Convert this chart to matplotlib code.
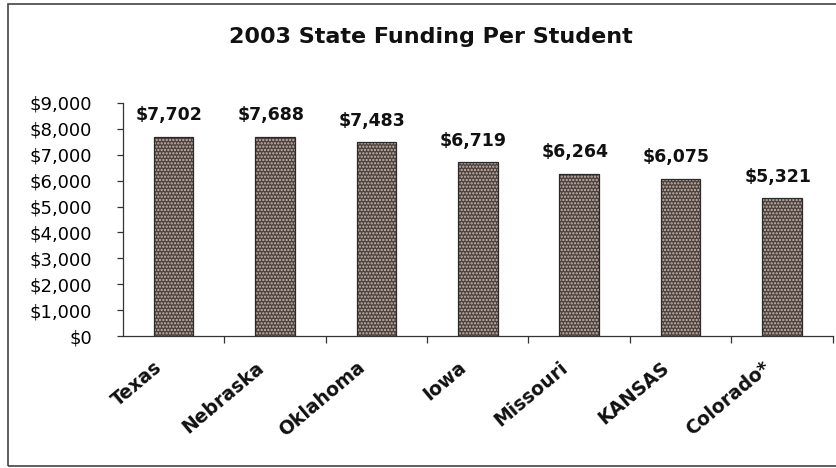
import matplotlib.pyplot as plt
from matplotlib.patches import Rectangle
from matplotlib.ticker import FuncFormatter, MultipleLocator
from matplotlib.transforms import ScaledTranslation

states = ['Texas', 'Nebraska', 'Oklahoma', 'Iowa', 'Missouri', 'KANSAS', 'Colorado*']
funding = [7702, 7688, 7483, 6719, 6264, 6075, 5321]
title = '2003 State Funding Per Student'

plt.rcParams['font.family'] = 'DejaVu Sans'
plt.rcParams['hatch.linewidth'] = 1.1

fig = plt.figure(figsize=(8.36, 4.68), dpi=100)
ax = fig.add_axes([0.147, 0.282, 0.849, 0.498])

x = range(len(states))
# stippled fill, then a dark outline on top
ax.bar(x, funding, width=0.39, color='#4e403b', edgecolor='#c4bab3',
       hatch='.....', linewidth=0, zorder=2)
ax.bar(x, funding, width=0.39, fill=False, edgecolor='#2a2a2a',
       linewidth=0.9, zorder=3)

for xi, v in zip(x, funding):
    ax.annotate('${:,}'.format(v), (xi, v), xytext=(-3, 9), textcoords='offset points',
                ha='center', va='bottom', fontsize=12.5, fontweight='bold', color='#111111')

ax.set_xlim(-0.5, len(states) - 0.5)
ax.set_ylim(0, 9000)
ax.yaxis.set_major_locator(MultipleLocator(1000))
ax.yaxis.set_major_formatter(FuncFormatter(lambda v, p: '${:,.0f}'.format(v)))

# category labels drawn by hand so they can sit a bit left of the bar centres
ax.set_xticks(list(x))
ax.set_xticklabels([])
shift = ScaledTranslation(-20 / 100, -22 / 100, fig.dpi_scale_trans)
for xi, name in zip(x, states):
    ax.text(xi, 0, name, transform=ax.get_xaxis_transform() + shift,
            rotation=40, ha='right', va='top', rotation_mode='anchor',
            fontsize=13.5, fontweight='bold', color='#111111')
ax.set_xticks([i + 0.5 for i in x], minor=True)
ax.tick_params(axis='x', which='major', length=0)
ax.tick_params(axis='x', which='minor', length=5, direction='out', width=0.9, color='#333333')
ax.tick_params(axis='y', length=4, width=0.9, color='#333333', pad=18, labelsize=13)

for side in ['top', 'right']:
    ax.spines[side].set_visible(False)
for side in ['left', 'bottom']:
    ax.spines[side].set_linewidth(0.9)
    ax.spines[side].set_color('#333333')

fig.text(0.515, 0.921, title, ha='center', va='center', fontsize=16, fontweight='bold',
         color='#111111')

# chart border
fig.patches.append(Rectangle((8 / 836, 2 / 468), 1.0, 462 / 468, transform=fig.transFigure,
                             fill=False, edgecolor='#444444', linewidth=1.2))

fig.savefig('out.png', dpi=100)
